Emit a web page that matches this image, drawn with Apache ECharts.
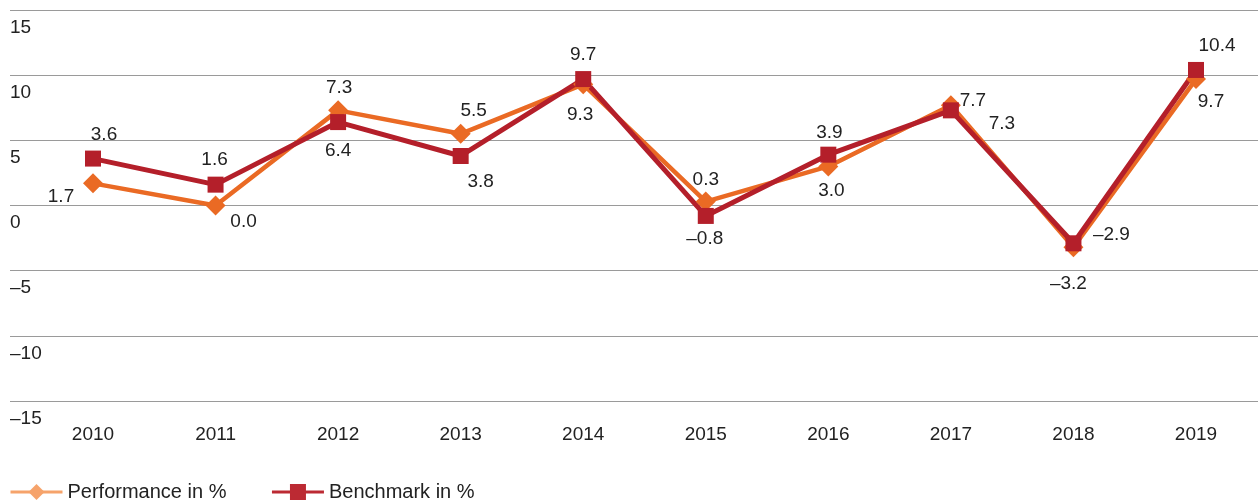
<!DOCTYPE html>
<html>
<head>
<meta charset="utf-8">
<script src="https://cdn.jsdelivr.net/npm/echarts@6/dist/echarts.min.js"></script>
<style>
html,body{margin:0;padding:0;background:#fff;}
#chart{width:1258px;height:502px;}
</style>
</head>
<body>
<div id="chart"></div>
<script>
const years = ['2010','2011','2012','2013','2014','2015','2016','2017','2018','2019'];
const performance = [1.7, 0.0, 7.3, 5.5, 9.3, 0.3, 3.0, 7.7, -3.2, 9.7];
const benchmark = [3.6, 1.6, 6.4, 3.8, 9.7, -0.8, 3.9, 7.3, -2.9, 10.4];
const yMin = -15, yMax = 15, yStep = 5;
const seriesNames = ['Performance in %', 'Benchmark in %'];

// label offsets (styling only)
const perfLabelOffsets = [[-32,13],[28,16],[1,-23],[13,-23],[-3,30],[0,-22],[3,24],[22,-4],[-5,37],[15,23]];
const benchLabelOffsets = [[11,-24],[-1,-25],[0,29],[20,26],[0,-24],[-1,23],[1,-22],[51,13],[38,-9],[21,-24]];

const ORANGE = '#EA6A24';
const RED = '#B41F2A';
const FONT = "'Liberation Sans', Arial, sans-serif";
const fmt = v => v.toFixed(1).replace('-', '\u2013');

function buildData(values, offsets) {
  return values.map((v, i) => ({
    value: v,
    label: { offset: offsets[i] }
  }));
}

const chart = echarts.init(document.getElementById('chart'), null, {renderer: 'canvas'});
chart.setOption({
  animation: false,
  textStyle: { fontFamily: FONT },
  grid: [
    { left: 93, right: 62, top: 10, bottom: 101 },
    { left: 10, right: 0, top: 10, bottom: 101 }
  ],
  xAxis: [
    {
      type: 'category', gridIndex: 0, data: years, boundaryGap: false,
      axisLine: { show: false }, axisTick: { show: false },
      axisLabel: { fontSize: 19, color: '#222', margin: 24, fontFamily: FONT },
      splitLine: { show: false }
    },
    { type: 'value', gridIndex: 1, show: false, min: 0, max: 1 }
  ],
  yAxis: [
    { type: 'value', gridIndex: 0, min: yMin, max: yMax, interval: yStep, show: false },
    {
      type: 'value', gridIndex: 1, min: yMin, max: yMax, interval: yStep,
      axisLine: { show: false }, axisTick: { show: false },
      splitLine: { show: true, lineStyle: { color: '#9a9a9a', width: 1 } },
      axisLabel: {
        inside: true, margin: 0, align: 'left', verticalAlign: 'top',
        padding: [8, 0, 0, 0],
        fontSize: 19, color: '#222', fontFamily: FONT,
        formatter: v => String(v).replace('-', '\u2013')
      }
    }
  ],
  legend: {
    left: 9, top: 482, padding: 0,
    itemWidth: 52, itemHeight: 20, itemGap: 44,
    textStyle: { fontSize: 20, color: '#222', fontFamily: FONT },
    data: [
      { name: seriesNames[0], itemStyle: { color: '#F6A36B' }, lineStyle: { color: '#F6A36B', width: 3 } },
      { name: seriesNames[1], itemStyle: { color: '#BC2A33' }, lineStyle: { color: '#BC2A33', width: 3 } }
    ]
  },
  series: [
    {
      name: seriesNames[0], type: 'line', xAxisIndex: 0, yAxisIndex: 0,
      data: buildData(performance, perfLabelOffsets),
      symbol: 'diamond', symbolSize: 20,
      itemStyle: { color: ORANGE },
      lineStyle: { color: ORANGE, width: 4.5 },
      label: { show: true, position: 'inside', fontSize: 19, color: '#222', fontFamily: FONT,
               formatter: p => fmt(p.value) }
    },
    {
      name: seriesNames[1], type: 'line', xAxisIndex: 0, yAxisIndex: 0,
      data: buildData(benchmark, benchLabelOffsets),
      symbol: 'rect', symbolSize: 16,
      itemStyle: { color: RED },
      lineStyle: { color: RED, width: 5 },
      label: { show: true, position: 'inside', fontSize: 19, color: '#222', fontFamily: FONT,
               formatter: p => fmt(p.value) }
    }
  ]
});
</script>
</body>
</html>
